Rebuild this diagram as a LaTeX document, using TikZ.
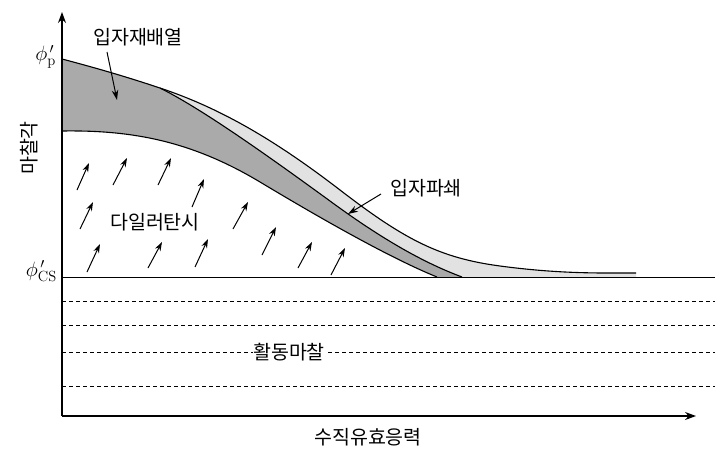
\documentclass[tikz,border=0pt]{standalone}
\usepackage{fontspec}
\newfontfamily\kr{Noto Sans CJK KR}
\usetikzlibrary{arrows.meta}
\definecolor{darkband}{RGB}{170,170,170}
\definecolor{lightband}{RGB}{226,226,226}
\begin{document}
\begin{tikzpicture}[x=1pt,y=-1pt,
  lbl/.style={font=\kr\fontsize{19.5}{22}\selectfont, inner sep=1pt},
  mlbl/.style={font=\fontsize{21}{24}\selectfont, inner sep=0pt},
  curve/.style={line width=1.1pt},
  axisline/.style={line width=1.1pt,-{Stealth[length=11pt,width=8pt]}},
  upar/.style={line width=1pt,-{Stealth[length=9pt,width=6pt]}},
  callout/.style={line width=1pt,-{Stealth[length=10pt,width=6.5pt]}},
  dashline/.style={line width=0.8pt,dash pattern=on 4pt off 3pt},
  baseline/.style={line width=1pt}]
\useasboundingbox (0,0) rectangle (728,450);
\def\outerpath{(62,59) .. controls (100,69) and (130,78) .. (160,88) .. controls (220,108) and (275,140) .. (340,190) .. controls (405,240) and (440,258) .. (500,266) .. controls (560,274) and (600,273) .. (636,273)}
\def\middlepath{(160,88) .. controls (200,108) and (260,150) .. (330,201) .. controls (390,245) and (430,265) .. (462,277)}
\def\innerpath{(62,131) .. controls (130,130) and (190,140) .. (260,182) .. controls (320,218) and (390,258) .. (437,277)}
% fills
\fill[lightband] \outerpath -- (636,277) -- (62,277) -- cycle;
\begin{scope}
  \clip \outerpath -- (636,277) -- (62,277) -- cycle;
  \fill[darkband] (62,40) -- (160,40) -- \middlepath -- (62,277) -- cycle;
\end{scope}
\fill[white] \innerpath -- (62,277) -- cycle;
% curves
\draw[curve] \outerpath;
\draw[curve] \middlepath;
\draw[curve] \innerpath;
% axes
\coordinate (O) at (62,416);
\coordinate (ytop) at (62,12);
\coordinate (xend) at (696,416);
\draw[axisline] (O) -- (ytop);
\draw[axisline] (O) -- (xend);
% phi_cs line and dashed lines
\coordinate (cs0) at (62,277); \coordinate (cs1) at (715,277);
\draw[baseline] (cs0) -- (cs1);
\foreach \yy/\nm in {301/a,325/b,352/c,386/d}{
  \coordinate (d0\nm) at (62,\yy); \coordinate (d1\nm) at (715,\yy);
  \draw[dashline] (d0\nm) -- (d1\nm);
}
% labels
\node[mlbl,anchor=east] (phip) at (56,57) {$\phi^{\,\prime}_{\mathrm{p}}$};
\node[mlbl,anchor=east] (phics) at (57,271) {$\phi^{\,\prime}_{\mathrm{CS}}$};
\node[lbl] (rearr) at (138,37) {입자재배열};
\node[lbl] (crush) at (426,188) {입자파쇄};
\node[lbl] (dila) at (155,222) {다일러탄시};
\node[lbl,fill=white,inner sep=0pt] (slide) at (289,352) {활동마찰};
\node[lbl] (xlab) at (368,437) {수직유효응력};
\node[lbl,rotate=90] (ylab) at (29,148) {마찰각};
% callout arrows
\coordinate (r0) at (107,52); \coordinate (r1) at (117,100);
\draw[callout] (r0) -- (r1);
\coordinate (c0) at (381,194); \coordinate (c1) at (348,214);
\draw[callout] (c0) -- (c1);
% dilatancy arrows
\foreach \xa/\ya/\xb/\yb [count=\i] in {77/190/89/163, 113/185/127/158, 158/185/171/158, 192/207/204/179, 80/229/93/202, 233/229/248/202, 87/272/100/244, 148/268/162/242, 195/267/208/239, 262/255/276/227, 298/268/312/242, 331/275/345/248}{
  \coordinate (s\i) at (\xa,\ya); \coordinate (e\i) at (\xb,\yb);
  \draw[upar] (s\i) -- (e\i);
}
\end{tikzpicture}
\end{document}
